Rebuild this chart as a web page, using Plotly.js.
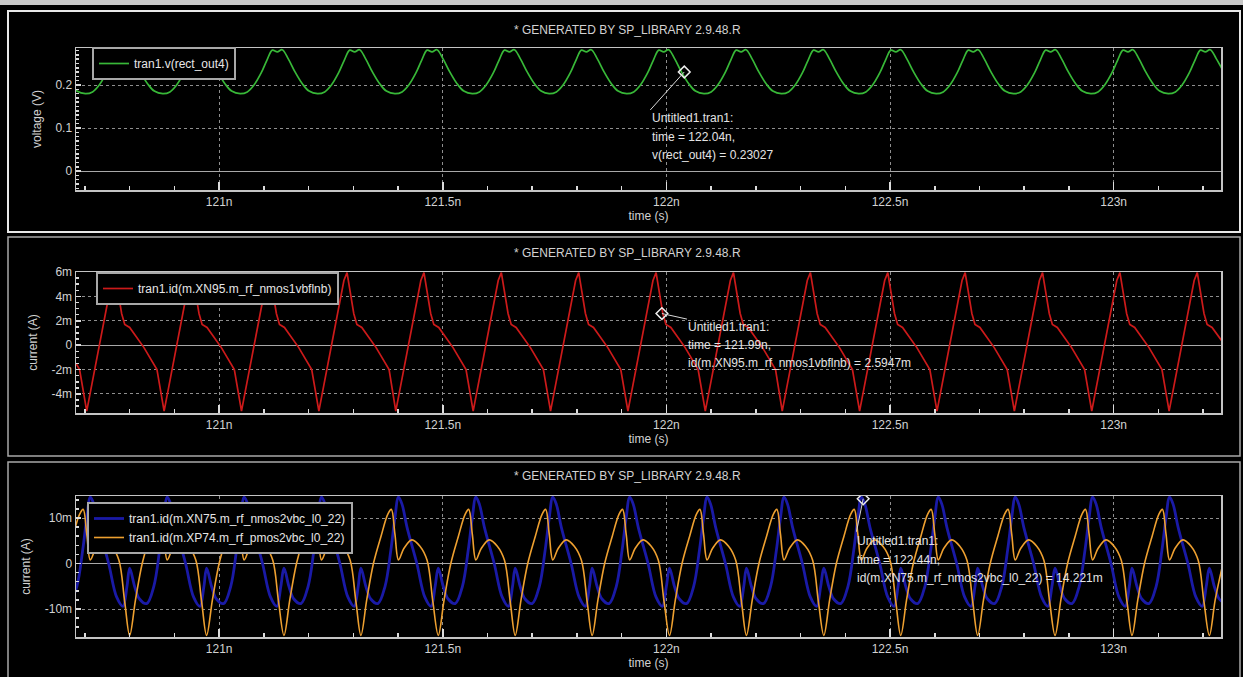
<!DOCTYPE html>
<html>
<head>
<meta charset="utf-8">
<script src="https://cdn.plot.ly/plotly-3.0.1.min.js"></script>
<style>html,body{margin:0;padding:0;background:#000;}#chart{width:1243px;height:677px;}</style>
</head>
<body>
<div id="chart"></div>
<script>
// ---------- data (time in ns, currents in mA) ----------
const panelTitle = '* GENERATED BY SP_LIBRARY 2.9.48.R';
const xTickSuffix = 'n';

const name_rect_out4 = 'tran1.v(rect_out4)';
const time_rect_out4 = [
120.667,120.682,
120.701,120.717,120.732,120.748,120.761,120.773,120.784,120.795,120.808,120.824,120.840,120.855,
120.874,120.890,120.905,120.921,120.934,120.946,120.957,120.968,120.981,120.997,121.013,121.028,
121.047,121.063,121.078,121.094,121.107,121.119,121.130,121.141,121.154,121.170,121.186,121.201,
121.220,121.236,121.251,121.267,121.280,121.292,121.303,121.314,121.327,121.343,121.359,121.374,
121.393,121.409,121.424,121.440,121.453,121.465,121.476,121.487,121.500,121.516,121.532,121.547,
121.566,121.582,121.597,121.613,121.626,121.638,121.649,121.660,121.673,121.689,121.705,121.720,
121.738,121.754,121.769,121.785,121.798,121.810,121.821,121.832,121.845,121.861,121.877,121.892,
121.911,121.927,121.942,121.958,121.971,121.983,121.994,122.005,122.018,122.034,122.050,122.065,
122.084,122.100,122.115,122.131,122.144,122.156,122.167,122.178,122.191,122.207,122.223,122.238,
122.257,122.273,122.288,122.304,122.317,122.329,122.340,122.351,122.364,122.380,122.396,122.411,
122.430,122.446,122.461,122.477,122.490,122.502,122.513,122.524,122.537,122.553,122.569,122.584,
122.603,122.619,122.634,122.650,122.663,122.675,122.686,122.697,122.710,122.726,122.742,122.757,
122.776,122.792,122.807,122.823,122.836,122.848,122.859,122.870,122.883,122.899,122.915,122.930,
122.949,122.965,122.980,122.996,123.009,123.021,123.032,123.043,123.056,123.072,123.088,123.103,
123.122,123.138,123.153,123.169,123.182,123.194,123.205,123.216,123.229,123.245];
const v_rect_out4 = [
0.203,0.186,
0.180,0.184,0.200,0.228,0.258,0.281,0.277,0.282,0.262,0.230,0.203,0.186,
0.180,0.184,0.200,0.228,0.258,0.281,0.277,0.282,0.262,0.230,0.203,0.186,
0.180,0.184,0.200,0.228,0.258,0.281,0.277,0.282,0.262,0.230,0.203,0.186,
0.180,0.184,0.200,0.228,0.258,0.281,0.277,0.282,0.262,0.230,0.203,0.186,
0.180,0.184,0.200,0.228,0.258,0.281,0.277,0.282,0.262,0.230,0.203,0.186,
0.180,0.184,0.200,0.228,0.258,0.281,0.277,0.282,0.262,0.230,0.203,0.186,
0.180,0.184,0.200,0.228,0.258,0.281,0.277,0.282,0.262,0.230,0.203,0.186,
0.180,0.184,0.200,0.228,0.258,0.281,0.277,0.282,0.262,0.230,0.203,0.186,
0.180,0.184,0.200,0.228,0.258,0.281,0.277,0.282,0.262,0.230,0.203,0.186,
0.180,0.184,0.200,0.228,0.258,0.281,0.277,0.282,0.262,0.230,0.203,0.186,
0.180,0.184,0.200,0.228,0.258,0.281,0.277,0.282,0.262,0.230,0.203,0.186,
0.180,0.184,0.200,0.228,0.258,0.281,0.277,0.282,0.262,0.230,0.203,0.186,
0.180,0.184,0.200,0.228,0.258,0.281,0.277,0.282,0.262,0.230,0.203,0.186,
0.180,0.184,0.200,0.228,0.258,0.281,0.277,0.282,0.262,0.230,0.203,0.186,
0.180,0.184,0.200,0.228,0.258,0.281,0.277,0.282,0.262,0.232];

const name_xn95 = 'tran1.id(m.XN95.m_rf_nmos1vbflnb)';
const time_xn95 = [
120.680,120.688,
120.704,120.760,120.767,120.773,120.782,120.789,120.800,120.832,120.861,
120.877,120.933,120.940,120.946,120.955,120.962,120.973,121.005,121.034,
121.050,121.106,121.113,121.119,121.128,121.135,121.146,121.178,121.207,
121.223,121.279,121.286,121.292,121.301,121.308,121.319,121.351,121.380,
121.395,121.451,121.458,121.464,121.473,121.480,121.491,121.523,121.552,
121.568,121.624,121.631,121.637,121.646,121.653,121.664,121.696,121.725,
121.741,121.797,121.804,121.810,121.819,121.826,121.837,121.869,121.898,
121.914,121.970,121.977,121.983,121.992,121.999,122.010,122.042,122.071,
122.087,122.143,122.150,122.156,122.165,122.172,122.183,122.215,122.244,
122.259,122.315,122.322,122.328,122.337,122.344,122.355,122.387,122.416,
122.432,122.488,122.495,122.501,122.510,122.517,122.528,122.560,122.589,
122.605,122.661,122.668,122.674,122.683,122.690,122.701,122.733,122.762,
122.778,122.834,122.841,122.847,122.856,122.863,122.874,122.906,122.935,
122.951,123.007,123.014,123.020,123.029,123.036,123.047,123.079,123.108,
123.124,123.180,123.187,123.193,123.202,123.209,123.220,123.245];
const id_xn95 = [
-1.5,-2.0,
-5.4,5.3,5.95,4.7,2.6,1.7,1.45,-0.2,-2.0,
-5.4,5.3,5.95,4.7,2.6,1.7,1.45,-0.2,-2.0,
-5.4,5.3,5.95,4.7,2.6,1.7,1.45,-0.2,-2.0,
-5.4,5.3,5.95,4.7,2.6,1.7,1.45,-0.2,-2.0,
-5.4,5.3,5.95,4.7,2.6,1.7,1.45,-0.2,-2.0,
-5.4,5.3,5.95,4.7,2.6,1.7,1.45,-0.2,-2.0,
-5.4,5.3,5.95,4.7,2.6,1.7,1.45,-0.2,-2.0,
-5.4,5.3,5.95,4.7,2.6,1.7,1.45,-0.2,-2.0,
-5.4,5.3,5.95,4.7,2.6,1.7,1.45,-0.2,-2.0,
-5.4,5.3,5.95,4.7,2.6,1.7,1.45,-0.2,-2.0,
-5.4,5.3,5.95,4.7,2.6,1.7,1.45,-0.2,-2.0,
-5.4,5.3,5.95,4.7,2.6,1.7,1.45,-0.2,-2.0,
-5.4,5.3,5.95,4.7,2.6,1.7,1.45,-0.2,-2.0,
-5.4,5.3,5.95,4.7,2.6,1.7,1.45,-0.2,-2.0,
-5.4,5.3,5.95,4.7,2.6,1.7,1.45,0.2];

const name_xn75 = 'tran1.id(m.XN75.m_rf_nmos2vbc_l0_22)';
const time_xn75 = [
120.666,120.682,120.695,120.704,120.712,120.720,120.731,120.753,120.771,120.785,120.794,
120.800,120.811,120.822,120.838,120.854,120.867,120.876,120.884,120.892,120.903,120.925,120.943,120.957,120.966,
120.972,120.983,120.994,121.010,121.026,121.039,121.048,121.056,121.064,121.075,121.097,121.115,121.129,121.138,
121.145,121.156,121.167,121.183,121.199,121.212,121.221,121.229,121.237,121.248,121.270,121.288,121.302,121.311,
121.317,121.328,121.339,121.355,121.371,121.384,121.393,121.401,121.409,121.420,121.442,121.460,121.474,121.483,
121.490,121.501,121.512,121.528,121.544,121.557,121.566,121.574,121.582,121.593,121.615,121.633,121.647,121.656,
121.662,121.673,121.684,121.700,121.716,121.729,121.738,121.746,121.754,121.765,121.787,121.805,121.819,121.828,
121.834,121.845,121.856,121.872,121.888,121.901,121.910,121.918,121.926,121.937,121.959,121.977,121.991,122.000,
122.007,122.018,122.029,122.045,122.061,122.074,122.083,122.091,122.099,122.110,122.132,122.150,122.164,122.173,
122.179,122.190,122.201,122.217,122.233,122.246,122.255,122.263,122.271,122.282,122.304,122.322,122.336,122.345,
122.352,122.363,122.374,122.390,122.406,122.419,122.428,122.436,122.444,122.455,122.477,122.495,122.509,122.518,
122.524,122.535,122.546,122.562,122.578,122.591,122.600,122.608,122.616,122.627,122.649,122.667,122.681,122.690,
122.696,122.707,122.718,122.734,122.750,122.763,122.772,122.780,122.788,122.799,122.821,122.839,122.853,122.862,
122.869,122.880,122.891,122.907,122.923,122.936,122.945,122.953,122.961,122.972,122.994,123.012,123.026,123.035,
123.041,123.052,123.063,123.079,123.095,123.108,123.117,123.125,123.133,123.144,123.166,123.184,123.198,123.207,
123.214,123.225,123.236,123.245];
const id_xn75 = [
-8.8,-5.0,3.0,10.0,14.6,13.0,8.0,0.0,-7.4,-9.4,-5.0,
-1.0,-5.0,-7.8,-8.8,-5.0,3.0,10.0,14.6,13.0,8.0,0.0,-7.4,-9.4,-5.0,
-1.0,-5.0,-7.8,-8.8,-5.0,3.0,10.0,14.6,13.0,8.0,0.0,-7.4,-9.4,-5.0,
-1.0,-5.0,-7.8,-8.8,-5.0,3.0,10.0,14.6,13.0,8.0,0.0,-7.4,-9.4,-5.0,
-1.0,-5.0,-7.8,-8.8,-5.0,3.0,10.0,14.6,13.0,8.0,0.0,-7.4,-9.4,-5.0,
-1.0,-5.0,-7.8,-8.8,-5.0,3.0,10.0,14.6,13.0,8.0,0.0,-7.4,-9.4,-5.0,
-1.0,-5.0,-7.8,-8.8,-5.0,3.0,10.0,14.6,13.0,8.0,0.0,-7.4,-9.4,-5.0,
-1.0,-5.0,-7.8,-8.8,-5.0,3.0,10.0,14.6,13.0,8.0,0.0,-7.4,-9.4,-5.0,
-1.0,-5.0,-7.8,-8.8,-5.0,3.0,10.0,14.6,13.0,8.0,0.0,-7.4,-9.4,-5.0,
-1.0,-5.0,-7.8,-8.8,-5.0,3.0,10.0,14.6,13.0,8.0,0.0,-7.4,-9.4,-5.0,
-1.0,-5.0,-7.8,-8.8,-5.0,3.0,10.0,14.6,13.0,8.0,0.0,-7.4,-9.4,-5.0,
-1.0,-5.0,-7.8,-8.8,-5.0,3.0,10.0,14.6,13.0,8.0,0.0,-7.4,-9.4,-5.0,
-1.0,-5.0,-7.8,-8.8,-5.0,3.0,10.0,14.6,13.0,8.0,0.0,-7.4,-9.4,-5.0,
-1.0,-5.0,-7.8,-8.8,-5.0,3.0,10.0,14.6,13.0,8.0,0.0,-7.4,-9.4,-5.0,
-1.0,-5.0,-7.8,-8.8,-5.0,3.0,10.0,14.6,13.0,8.0,0.0,-7.4,-9.4,-5.0,
-1.0,-5.0,-7.8,-8.5];

const name_xp74 = 'tran1.id(m.XP74.m_rf_pmos2vbc_l0_22)';
const time_xp74 = [
120.656,120.673,120.688,120.696,120.704,120.712,120.724,120.742,120.760,120.776,120.789,
120.800,120.813,120.828,120.845,120.860,120.868,120.876,120.884,120.896,120.914,120.932,120.948,120.961,
120.972,120.985,121.000,121.017,121.032,121.040,121.048,121.056,121.068,121.086,121.104,121.120,121.133,
121.145,121.158,121.173,121.190,121.205,121.213,121.221,121.229,121.241,121.259,121.277,121.293,121.306,
121.317,121.330,121.345,121.362,121.377,121.385,121.393,121.401,121.413,121.431,121.449,121.465,121.478,
121.490,121.503,121.518,121.535,121.550,121.558,121.566,121.574,121.586,121.604,121.622,121.638,121.651,
121.662,121.675,121.690,121.707,121.722,121.730,121.738,121.746,121.758,121.776,121.794,121.810,121.823,
121.834,121.847,121.862,121.879,121.894,121.902,121.910,121.918,121.930,121.948,121.966,121.982,121.995,
122.007,122.020,122.035,122.052,122.067,122.075,122.083,122.091,122.103,122.121,122.139,122.155,122.168,
122.179,122.192,122.207,122.224,122.239,122.247,122.255,122.263,122.275,122.293,122.311,122.327,122.340,
122.352,122.365,122.380,122.397,122.412,122.420,122.428,122.436,122.448,122.466,122.484,122.500,122.513,
122.524,122.537,122.552,122.569,122.584,122.592,122.600,122.608,122.620,122.638,122.656,122.672,122.685,
122.696,122.709,122.724,122.741,122.756,122.764,122.772,122.780,122.792,122.810,122.828,122.844,122.857,
122.869,122.882,122.897,122.914,122.929,122.937,122.945,122.953,122.965,122.983,123.001,123.017,123.030,
123.041,123.054,123.069,123.086,123.101,123.109,123.117,123.125,123.137,123.155,123.173,123.189,123.202,
123.214,123.227,123.242];
const id_xp74 = [
0,6,10.8,11.9,6.5,0.8,3.3,5.2,3.8,0.7,-8.5,
-15.8,-8,0,6,10.8,11.9,6.5,0.8,3.3,5.2,3.8,0.7,-8.5,
-15.8,-8,0,6,10.8,11.9,6.5,0.8,3.3,5.2,3.8,0.7,-8.5,
-15.8,-8,0,6,10.8,11.9,6.5,0.8,3.3,5.2,3.8,0.7,-8.5,
-15.8,-8,0,6,10.8,11.9,6.5,0.8,3.3,5.2,3.8,0.7,-8.5,
-15.8,-8,0,6,10.8,11.9,6.5,0.8,3.3,5.2,3.8,0.7,-8.5,
-15.8,-8,0,6,10.8,11.9,6.5,0.8,3.3,5.2,3.8,0.7,-8.5,
-15.8,-8,0,6,10.8,11.9,6.5,0.8,3.3,5.2,3.8,0.7,-8.5,
-15.8,-8,0,6,10.8,11.9,6.5,0.8,3.3,5.2,3.8,0.7,-8.5,
-15.8,-8,0,6,10.8,11.9,6.5,0.8,3.3,5.2,3.8,0.7,-8.5,
-15.8,-8,0,6,10.8,11.9,6.5,0.8,3.3,5.2,3.8,0.7,-8.5,
-15.8,-8,0,6,10.8,11.9,6.5,0.8,3.3,5.2,3.8,0.7,-8.5,
-15.8,-8,0,6,10.8,11.9,6.5,0.8,3.3,5.2,3.8,0.7,-8.5,
-15.8,-8,0,6,10.8,11.9,6.5,0.8,3.3,5.2,3.8,0.7,-8.5,
-15.8,-8,0,6,10.8,11.9,6.5,0.8,3.3,5.2,3.8,0.7,-8.5,
-15.8,-8,-1];

// cursor readouts
const cursor1 = {t:122.04, v:0.23027, lines:['Untitled1.tran1:','time = 122.04n,','v(rect_out4) = 0.23027']};
const cursor2 = {t:121.99, v:2.5947, lines:['Untitled1.tran1:','time = 121.99n,','id(m.XN95.m_rf_nmos1vbflnb) = 2.5947m']};
const cursor3 = {t:122.44, v:14.221, lines:['Untitled1.tran1:','time = 122.44n,','id(m.XN75.m_rf_nmos2vbc_l0_22) = 14.221m']};

const yTicks2 = [-4,-2,0,2,4,6];
const yTickText2 = ['-4m','-2m','0','2m','4m','6m'];
const yTicks3 = [-10,0,10];
const yTickText3 = ['-10m','0','10m'];

// ---------- layout helpers (page pixels -> paper fractions) ----------
const W = 1243, H = 677;
const fx = p => p / W;
const fy = p => 1 - p / H;

const FONT = '"Liberation Sans", Arial, sans-serif';
const TXT = '#d2d2d2';

function xAxis(anchor) {
  return {
    domain: [fx(76), fx(1221)], anchor: anchor,
    range: [120.68, 123.24], tick0: 121, dtick: 0.5, ticksuffix: xTickSuffix,
    showline: true, mirror: true, linecolor: '#c4c4c4', linewidth: 1.5,
    ticks: 'inside', ticklen: 8, tickwidth: 1.5, tickcolor: '#dcdcdc',
    minor: {tickmode: 'linear', tick0: 121, dtick: 0.1, ticks: 'inside', ticklen: 4, tickcolor: '#dcdcdc', showgrid: false},
    showgrid: true, gridcolor: '#8e8e8e', griddash: '3px,3px', gridwidth: 1,
    zeroline: false,
    tickfont: {family: FONT, size: 12, color: TXT},
    title: {text: 'time (s)', font: {family: FONT, size: 12, color: TXT}, standoff: 3},
    fixedrange: true
  };
}
function yAxis(anchor, top, bottom, extra) {
  return Object.assign({
    domain: [fy(bottom), fy(top)], anchor: anchor,
    showline: true, mirror: true, linecolor: '#c4c4c4', linewidth: 1.5,
    ticks: 'inside', ticklen: 5, tickwidth: 1.5, tickcolor: '#dcdcdc',
    showgrid: true, gridcolor: '#8e8e8e', griddash: '3px,3px', gridwidth: 1,
    zeroline: true, zerolinecolor: '#a8a8a8', zerolinewidth: 1,
    tickfont: {family: FONT, size: 12, color: TXT},
    fixedrange: true
  }, extra);
}

const traces = [
  {x: time_rect_out4, y: v_rect_out4, name: name_rect_out4, type: 'scatter', mode: 'lines',
   line: {color: '#38b838', width: 1.7, shape: 'spline'}, xaxis: 'x', yaxis: 'y', legend: 'legend'},
  {x: time_xn95, y: id_xn95, name: name_xn95, type: 'scatter', mode: 'lines',
   line: {color: '#cc1a1a', width: 1.7}, xaxis: 'x2', yaxis: 'y2', legend: 'legend2'},
  {x: time_xn75, y: id_xn75, name: name_xn75, type: 'scatter', mode: 'lines',
   line: {color: '#1a1aa6', width: 2.8, shape: 'spline'}, xaxis: 'x3', yaxis: 'y3', legend: 'legend3'},
  {x: time_xp74, y: id_xp74, name: name_xp74, type: 'scatter', mode: 'lines',
   line: {color: '#eea030', width: 1.6, shape: 'spline'}, xaxis: 'x3', yaxis: 'y3', legend: 'legend3'},
  {x: [cursor1.t], y: [cursor1.v], type: 'scatter', mode: 'markers', showlegend: false, xaxis: 'x', yaxis: 'y',
   marker: {symbol: 'diamond-open', size: 9, color: '#eeeeee', line: {width: 1.5}}},
  {x: [cursor2.t], y: [cursor2.v], type: 'scatter', mode: 'markers', showlegend: false, xaxis: 'x2', yaxis: 'y2',
   marker: {symbol: 'diamond-open', size: 9, color: '#eeeeee', line: {width: 1.5}}},
  {x: [cursor3.t], y: [cursor3.v], type: 'scatter', mode: 'markers', showlegend: false, xaxis: 'x3', yaxis: 'y3',
   marker: {symbol: 'diamond-open', size: 9, color: '#eeeeee', line: {width: 1.5}}}
];

function cursorText(lines, xpx, ypxs) {
  return lines.map((s, i) => ({
    text: s, xref: 'paper', yref: 'paper', x: fx(xpx), y: fy(ypxs[i]),
    xanchor: 'left', yanchor: 'middle', showarrow: false,
    font: {family: FONT, size: 12, color: '#e4e4e4'}
  }));
}
function titleAnn(ypx) {
  return {text: panelTitle, xref: 'paper', yref: 'paper', x: fx(627), y: fy(ypx),
    xanchor: 'center', yanchor: 'middle', showarrow: false,
    font: {family: FONT, size: 12, color: TXT}};
}

const annotations = [
  titleAnn(30), titleAnn(253), titleAnn(476),
  ...cursorText(cursor1.lines, 650, [118, 137, 155]),
  ...cursorText(cursor2.lines, 686, [327, 345, 363]),
  ...cursorText(cursor3.lines, 855, [541, 560, 578])
];

const legendBase = {bgcolor: '#000000', bordercolor: '#a8a8a8', borderwidth: 2,
  font: {family: FONT, size: 12, color: '#e6e6e6'}, xanchor: 'left', yanchor: 'top', itemwidth: 30,
  itemclick: false, itemdoubleclick: false};

const shapes = [
  {type: 'rect', xref: 'paper', yref: 'paper', x0: 0, x1: 1, y0: fy(5), y1: 1, fillcolor: '#c8c8c8', line: {width: 0}},
  {type: 'rect', xref: 'paper', yref: 'paper', x0: fx(8), x1: fx(1240), y0: fy(232), y1: fy(11), line: {color: '#e8e8e8', width: 2}},
  {type: 'rect', xref: 'paper', yref: 'paper', x0: fx(8), x1: fx(1240), y0: fy(456), y1: fy(237), line: {color: '#a8a8a8', width: 1.5}},
  {type: 'rect', xref: 'paper', yref: 'paper', x0: fx(8), x1: fx(1240), y0: fy(682), y1: fy(462), line: {color: '#a8a8a8', width: 1.5}},
  // cursor leader lines
  {type: 'line', xref: 'x', yref: 'y', x0: cursor1.t, y0: cursor1.v, x1: 121.964, y1: 0.142, line: {color: '#d8d8d8', width: 1}},
  {type: 'line', xref: 'x2', yref: 'y2', x0: cursor2.t, y0: cursor2.v, x1: 122.046, y1: 2.14, line: {color: '#d8d8d8', width: 1}},
  {type: 'line', xref: 'x3', yref: 'y3', x0: cursor3.t, y0: cursor3.v, x1: 122.425, y1: 7.0, line: {color: '#d8d8d8', width: 1}},
  // small mouse-pointer square over the first legend
  {type: 'rect', xref: 'paper', yref: 'paper', x0: fx(132.5), x1: fx(137.5), y0: fy(55.5), y1: fy(50.5), line: {color: '#e0e0e0', width: 1}}
];

const layout = {
  width: W, height: H,
  margin: {l: 0, r: 0, t: 0, b: 0, pad: 0},
  paper_bgcolor: '#000000', plot_bgcolor: '#000000',
  font: {family: FONT, size: 12, color: TXT},
  showlegend: true,
  xaxis: xAxis('y'),
  yaxis: yAxis('x', 48, 190, {range: [-0.044, 0.286], tickmode: 'linear', tick0: 0, dtick: 0.1,
    minor: {tickmode: 'linear', tick0: 0, dtick: 0.01, ticks: 'inside', ticklen: 3, tickcolor: '#dcdcdc', showgrid: false},
    title: {text: 'voltage (V)', font: {family: FONT, size: 12, color: TXT}, standoff: 11}}),
  xaxis2: xAxis('y2'),
  yaxis2: yAxis('x2', 272, 413, {range: [-5.56, 6.0], tickmode: 'array', tickvals: yTicks2, ticktext: yTickText2,
    minor: {tickmode: 'linear', tick0: 0, dtick: 0.5, ticks: 'inside', ticklen: 3, tickcolor: '#dcdcdc', showgrid: false},
    title: {text: 'current (A)', font: {family: FONT, size: 12, color: TXT}, standoff: 11}}),
  xaxis3: xAxis('y3'),
  yaxis3: yAxis('x3', 496, 637, {range: [-16.15, 14.84], tickmode: 'array', tickvals: yTicks3, ticktext: yTickText3,
    minor: {tickmode: 'linear', tick0: 0, dtick: 2, ticks: 'inside', ticklen: 3, tickcolor: '#dcdcdc', showgrid: false},
    title: {text: 'current (A)', font: {family: FONT, size: 12, color: TXT}, standoff: 11}}),
  legend: Object.assign({}, legendBase, {x: fx(92), y: fy(47)}),
  legend2: Object.assign({}, legendBase, {x: fx(96), y: fy(272)}),
  legend3: Object.assign({}, legendBase, {x: fx(87), y: fy(502)}),
  annotations: annotations,
  shapes: shapes
};

Plotly.newPlot('chart', traces, layout, {displayModeBar: false, staticPlot: true});
</script>
</body>
</html>
